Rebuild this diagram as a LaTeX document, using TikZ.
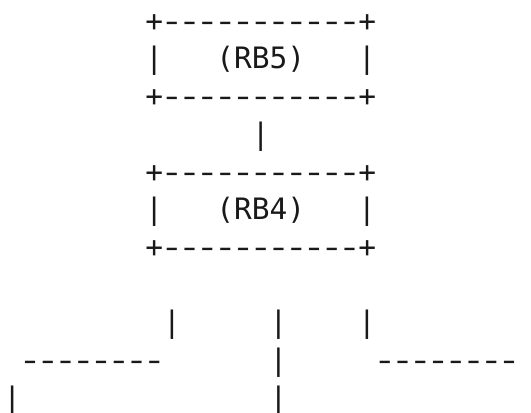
\documentclass[tikz,border=0pt]{standalone}
\usepackage{fontspec}
\usepackage{graphicx}
\setmonofont{DejaVu Sans Mono}
\tikzset{asc/.style={anchor=base west, inner sep=0pt, outer sep=0pt, text=black!90,
  font=\ttfamily\fontsize{29.5}{37.7}\selectfont}}
\newcommand\ascat[4]{\node[asc] (#1) at ({3.4+#2*17.74},{381.7-#3*37.7}) {#4};}
% one hyphen cell, drawn a little longer, as in the reference
\newcommand\hy{\makebox[0.60205em][c]{\scalebox{1.35}[1]{-}}}
\newcommand\hyeight{\hy\hy\hy\hy\hy\hy\hy\hy}
\newcommand\boxedge{+\hyeight\hy\hy\hy+}
\begin{document}
\begin{tikzpicture}[x=1pt,y=1pt]
\useasboundingbox (0,0) rectangle (531,413);
% box RB5
\ascat{rbfivetop}{8}{0}{\boxedge}
\ascat{rbfiveleft}{8}{1}{|}
\ascat{rbfive}{12}{1}{(RB5)}
\ascat{rbfiveright}{20}{1}{|}
\ascat{rbfivebot}{8}{2}{\boxedge}
% link
\ascat{linkA}{14}{3}{|}
% box RB4
\ascat{rbfourtop}{8}{4}{\boxedge}
\ascat{rbfourleft}{8}{5}{|}
\ascat{rbfour}{12}{5}{(RB4)}
\ascat{rbfourright}{20}{5}{|}
\ascat{rbfourbot}{8}{6}{\boxedge}
% lower lines
\ascat{lowA}{9}{8}{|}
\ascat{lowB}{15}{8}{|}
\ascat{lowC}{20}{8}{|}
\ascat{dashL}{1}{9}{\hyeight}
\ascat{midB}{15}{9}{|}
\ascat{dashR}{21}{9}{\hyeight}
\ascat{botL}{0}{10}{|}
\ascat{botB}{15}{10}{|}
\end{tikzpicture}
\end{document}
